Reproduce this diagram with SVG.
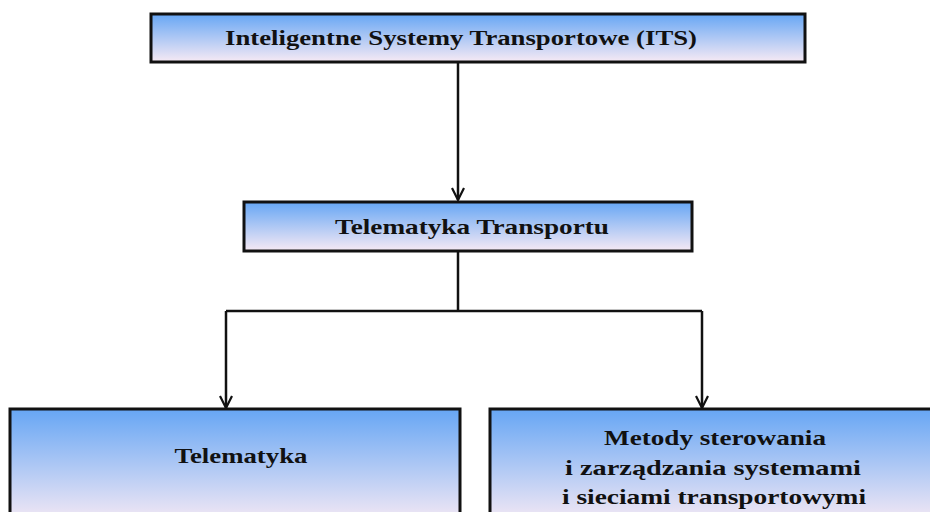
<svg xmlns="http://www.w3.org/2000/svg" width="930" height="512" viewBox="0 0 930 512">
<style>
.box{stroke:#111;stroke-width:3}
.t{font-family:"Liberation Serif","Times New Roman",serif;font-weight:bold;font-size:22px;fill:#111;text-anchor:middle}
.c{fill:none;stroke:#111;stroke-width:2.5}
</style>
<defs>
<linearGradient id="g" x1="0" y1="0" x2="0" y2="1">
<stop offset="0" stop-color="#66a6f4"/>
<stop offset="1" stop-color="#f7eaf4"/>
</linearGradient>
<marker id="a" viewBox="0 0 14 14" refX="13" refY="7" markerWidth="14" markerHeight="14" markerUnits="userSpaceOnUse" orient="auto">
<path d="M1,1 L13,7 L1,13" fill="none" stroke="#111" stroke-width="2.2"/>
</marker>
</defs>
<rect width="930" height="512" fill="#fff"/>
<g id="connectors">
<line class="c" x1="458" y1="62" x2="458" y2="200" marker-end="url(#a)"/>
<polyline class="c" points="458,251 458,311"/>
<polyline class="c" points="226,311 702,311"/>
<line class="c" x1="226" y1="311" x2="226" y2="408" marker-end="url(#a)"/>
<line class="c" x1="702" y1="311" x2="702" y2="408" marker-end="url(#a)"/>
</g>
<g id="its">
<rect class="box" x="151" y="14" width="654" height="48" fill="url(#g)"/>
<text class="t" x="461" y="45" font-size="21" textLength="472" lengthAdjust="spacingAndGlyphs">Inteligentne Systemy Transportowe (ITS)</text>
</g>
<g id="telematyka-transportu">
<rect class="box" x="244" y="202" width="448" height="49" fill="url(#g)"/>
<text class="t" x="472" y="234" textLength="274" lengthAdjust="spacingAndGlyphs">Telematyka Transportu</text>
</g>
<g id="telematyka">
<rect class="box" x="10" y="409" width="450" height="115" fill="url(#g)"/>
<text class="t" x="241" y="463" textLength="133" lengthAdjust="spacingAndGlyphs">Telematyka</text>
</g>
<g id="metody">
<rect class="box" x="490" y="409" width="450" height="115" fill="url(#g)"/>
<text class="t" x="715" y="445" textLength="222" lengthAdjust="spacingAndGlyphs">Metody sterowania</text>
<text class="t" x="713" y="475" textLength="296" lengthAdjust="spacingAndGlyphs">i zarządzania systemami</text>
<text class="t" x="714" y="504" textLength="304" lengthAdjust="spacingAndGlyphs">i sieciami transportowymi</text>
</g>
</svg>
